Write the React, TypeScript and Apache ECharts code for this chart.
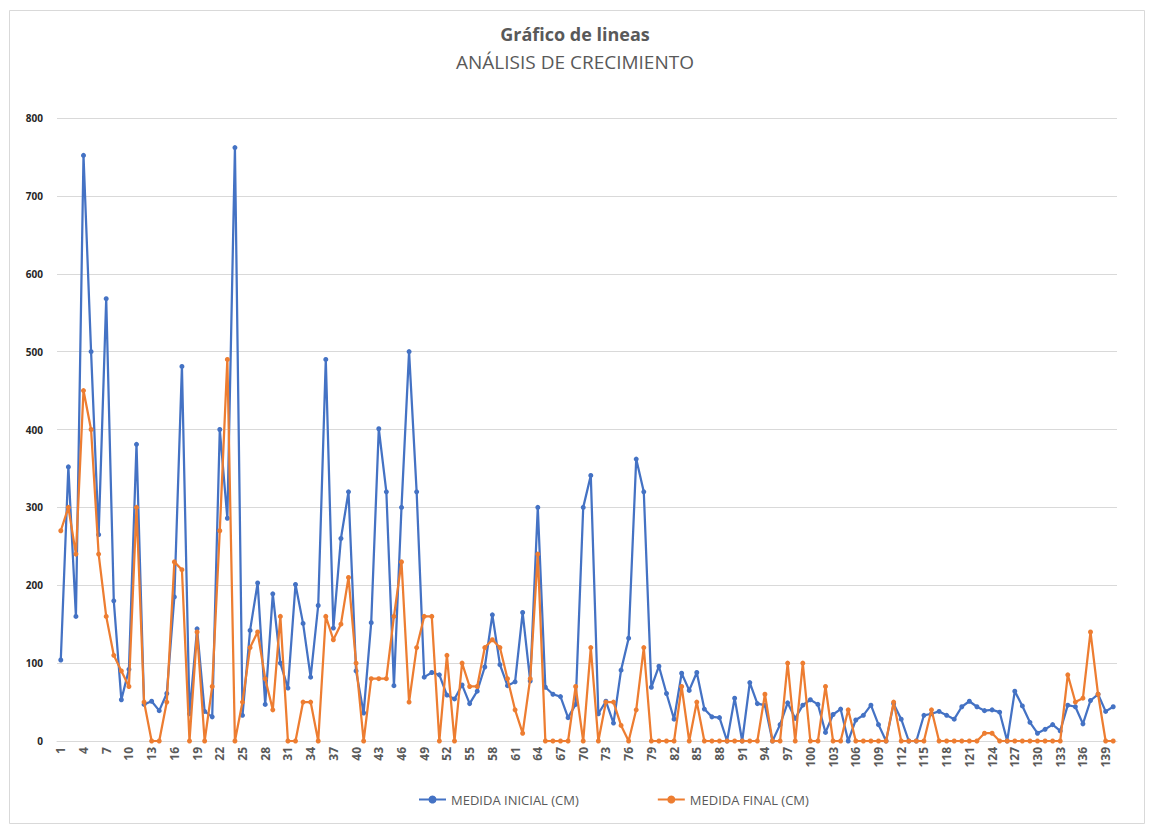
import React, { useEffect, useRef } from "react";
import * as echarts from "echarts";

const categories: string[] = Array.from({ length: 140 }, (_, i) => String(i + 1));

const medidaInicial: number[] = [
  104, 352, 160, 752, 500, 265, 568, 180, 53, 92,
  381, 47, 51, 39, 61, 185, 481, 35, 144, 38,
  31, 400, 286, 762, 33, 142, 203, 47, 189, 100,
  68, 201, 151, 82, 174, 490, 145, 260, 320, 90,
  36, 152, 401, 320, 71, 300, 500, 320, 82, 88,
  85, 59, 54, 72, 48, 64, 95, 162, 98, 71,
  76, 165, 77, 300, 69, 60, 57, 30, 47, 300,
  341, 35, 51, 23, 91, 132, 362, 320, 69, 96,
  61, 28, 87, 65, 88, 41, 31, 30, 0, 55,
  0, 75, 48, 46, 0, 21, 49, 29, 46, 53,
  47, 11, 34, 41, 0, 27, 33, 46, 21, 0,
  48, 28, 0, 0, 33, 35, 38, 33, 28, 44,
  51, 44, 39, 40, 37, 0, 64, 45, 24, 10,
  15, 21, 13, 46, 44, 22, 52, 60, 38, 44,
];

const medidaFinal: number[] = [
  270, 300, 240, 450, 400, 240, 160, 110, 90, 70,
  300, 50, 0, 0, 50, 230, 220, 0, 140, 0,
  70, 270, 490, 0, 50, 120, 140, 80, 40, 160,
  0, 0, 50, 50, 0, 160, 130, 150, 210, 100,
  0, 80, 80, 80, 160, 230, 50, 120, 160, 160,
  0, 110, 0, 100, 70, 70, 120, 130, 120, 80,
  40, 10, 80, 240, 0, 0, 0, 0, 70, 0,
  120, 0, 50, 50, 20, 0, 40, 120, 0, 0,
  0, 0, 70, 0, 50, 0, 0, 0, 0, 0,
  0, 0, 0, 60, 0, 0, 100, 0, 100, 0,
  0, 70, 0, 0, 40, 0, 0, 0, 0, 0,
  50, 0, 0, 0, 0, 40, 0, 0, 0, 0,
  0, 0, 10, 10, 0, 0, 0, 0, 0, 0,
  0, 0, 0, 85, 50, 55, 140, 60, 0, 0,
];

const seriesNames: string[] = ["MEDIDA INICIAL (CM)", "MEDIDA FINAL (CM)"];
const yTicks: number[] = [0, 100, 200, 300, 400, 500, 600, 700, 800];

const FONT = "'Open Sans', 'Noto Sans', sans-serif";

export default function App() {
  const ref = useRef<HTMLDivElement>(null);

  useEffect(() => {
    if (!ref.current) return;
    const chart = echarts.init(ref.current, undefined, { renderer: "svg" });
    chart.setOption({
      animation: false,
      backgroundColor: "#ffffff",
      textStyle: { fontFamily: FONT },
      graphic: [
        {
          type: "rect",
          shape: { x: 9.5, y: 10.5, width: 1135, height: 813 },
          style: { fill: "none", stroke: "#d9d9d9", lineWidth: 1 },
          silent: true,
        },
      ],
      title: [
        {
          text: "Gráfico de lineas",
          left: "center",
          top: 20,
          textStyle: { fontFamily: FONT, fontSize: 18, fontWeight: "bold", color: "#595959" },
        },
        {
          text: "ANÁLISIS DE CRECIMIENTO",
          left: "center",
          top: 47,
          textStyle: { fontFamily: FONT, fontSize: 19, fontWeight: "normal", color: "#595959" },
        },
      ],
      legend: {
        bottom: 15,
        left: 413,
        itemGap: 78,
        itemWidth: 27,
        itemHeight: 10,
        data: seriesNames,
        textStyle: { fontFamily: FONT, fontSize: 13, color: "#595959" },
      },
      grid: { left: 57, right: 33, top: 118, bottom: 85, containLabel: false },
      xAxis: {
        type: "category",
        data: categories,
        boundaryGap: true,
        axisLine: { show: true, lineStyle: { color: "#d9d9d9", width: 1 } },
        axisTick: { show: false },
        axisLabel: {
          interval: 2,
          rotate: 90,
          fontSize: 12,
          fontWeight: "bold",
          color: "#595959",
          fontFamily: FONT,
          margin: 6,
        },
      },
      yAxis: {
        type: "value",
        min: yTicks[0],
        max: yTicks[yTicks.length - 1],
        interval: 100,
        axisLine: { show: false },
        axisTick: { show: false },
        splitLine: { lineStyle: { color: "#d9d9d9", width: 1 } },
        axisLabel: {
          fontSize: 10,
          fontWeight: "bold",
          color: "#262626",
          fontFamily: FONT,
          margin: 14,
        },
      },
      series: [
        {
          name: seriesNames[0],
          type: "line",
          data: medidaInicial,
          symbol: "circle",
          symbolSize: 5,
          showAllSymbol: true,
          itemStyle: { color: "#4472C4" },
          lineStyle: { color: "#4472C4", width: 2.25 },
          z: 2,
        },
        {
          name: seriesNames[1],
          type: "line",
          data: medidaFinal,
          symbol: "circle",
          symbolSize: 5,
          showAllSymbol: true,
          itemStyle: { color: "#ED7D31" },
          lineStyle: { color: "#ED7D31", width: 2.25 },
          z: 3,
        },
      ],
    });
    return () => chart.dispose();
  }, []);

  return (
    <div
      ref={ref}
      style={{ position: "absolute", left: 0, top: 0, width: 1150, height: 826 }}
    />
  );
}
